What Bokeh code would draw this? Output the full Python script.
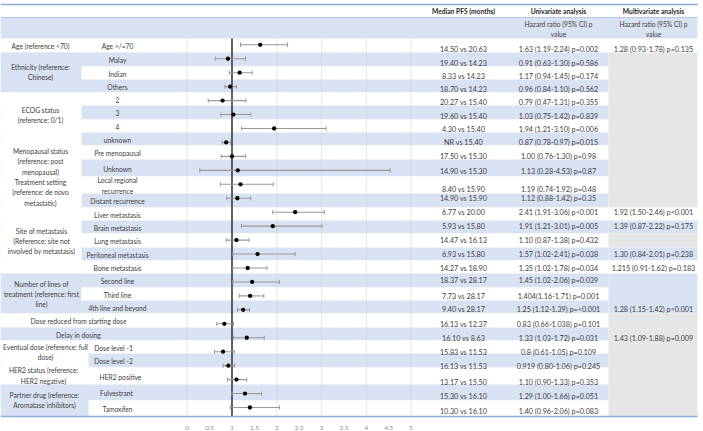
from bokeh.plotting import figure
from bokeh.models import Range1d, ColumnDataSource
from bokeh.embed import file_html
from bokeh.resources import INLINE
from bokeh.core.properties import value

# ---------------- data ----------------
GROUP_LABELS = [
    "Age (reference <70)",
    "Ethnicity (reference:\nChinese)",
    "ECOG status\n(reference: 0/1)",
    "Menopausal status\n(reference: post\nmenopausal)",
    "Treatment setting\n(reference: de novo\nmetastatic)",
    "Site of metastasis\n(Reference: site not\ninvolved by metastasis)",
    "Number of lines of\ntreatment (reference: first\nline)",
    "Dose reduced from starting dose",
    "Delay in dosing",
    "Eventual dose (reference: full\ndose)",
    "HER2 status (reference:\nHER2 negative)",
    "Partner drug (reference:\nAromatase inhibitors)",
]
GROUP_SIZES = [1, 3, 4, 2, 2, 5, 3, 1, 1, 2, 1, 2]
SUB_LABELS = ["Age >/=70", "Malay", "Indian", "Others", "2", "3", "4", "unknown",
              "Pre menopausal", "Unknown", "Local regional\nrecurrence", "Distant recurrence",
              "Liver metastasis", "Brain metastasis", "Lung metastasis", "Peritoneal metastasis",
              "Bone metastasis", "Second line", "Third line", "4th line and beyond", "", "",
              "Dose level -1", "Dose level -2", "HER2 positive", "Fulvestrant", "Tamoxifen"]
HR = [1.63, 0.91, 1.17, 0.96, 0.79, 1.03, 1.94, 0.87, 1.00, 1.13, 1.19, 1.12, 2.41, 1.91,
      1.10, 1.57, 1.35, 1.45, 1.404, 1.25, 0.83, 1.33, 0.8, 0.919, 1.10, 1.29, 1.40]
CI_LO = [1.19, 0.63, 0.94, 0.84, 0.47, 0.75, 1.21, 0.78, 0.76, 0.28, 0.74, 0.88, 1.91, 1.21,
         0.87, 1.02, 1.02, 1.02, 1.16, 1.12, 0.66, 1.03, 0.61, 0.80, 0.90, 1.00, 0.96]
CI_HI = [2.24, 1.30, 1.45, 1.10, 1.31, 1.42, 3.10, 0.97, 1.30, 4.53, 1.92, 1.42, 3.06, 3.01,
         1.38, 2.41, 1.78, 2.06, 1.71, 1.39, 1.038, 1.72, 1.05, 1.06, 1.33, 1.66, 2.06]
PFS = ["14.50 vs 20.63", "19.40 vs 14.23", "8.33 vs 14.23", "18.70 vs 14.23", "20.27 vs 15.40",
       "19.60 vs 15.40", "4.30 vs 15.40", "NR vs 15.40", "17.50 vs 15.30", "14.90 vs 15.30",
       "8.40 vs 15.90", "14.90 vs 15.90", "6.77 vs 20.00", "5.93 vs 15.80", "14.47 vs 16.13",
       "6.93 vs 15.80", "14.27 vs 18.90", "18.37 vs 28.17", "7.73 vs 28.17", "9.40 vs 28.17",
       "16.13 vs 12.37", "16.10 vs 8.63", "15.83 vs 11.53", "16.13 vs 11.53", "13.17 vs 15.50",
       "15.30 vs 16.10", "10.30 vs 16.10"]
UNI = ["1.63 (1.19-2.24) p=0.002", "0.91 (0.63-1.30) p=0.586", "1.17 (0.94-1.45) p=0.174",
       "0.96 (0.84-1.10) p=0.562", "0.79 (0.47-1.31) p=0.355", "1.03 (0.75-1.42) p=0.839",
       "1.94 (1.21-3.10) p=0.006", "0.87 (0.78-0.97) p=0.015", "1.00 (0.76-1.30) p=0.98",
       "1.13 (0.28-4.53) p=0.87", "1.19 (0.74-1.92) p=0.48", "1.12 (0.88-1.42) p=0.35",
       "2.41 (1.91-3.06) p<0.001", "1.91 (1.21-3.01) p=0.005", "1.10 (0.87-1.38) p=0.432",
       "1.57 (1.02-2.41) p=0.038", "1.35 (1.02-1.78) p=0.034", "1.45 (1.02-2.06) p=0.039",
       "1.404(1.16-1.71) p=0.001", "1.25 (1.12-1.39) p=<0.001", "0.83 (0.66-1.038) p=0.101",
       "1.33 (1.03-1.72) p=0.031", "0.8 (0.61-1.05) p=0.109", "0.919 (0.80-1.06) p=0.245",
       "1.10 (0.90-1.33) p=0.353", "1.29 (1.00-1.66) p=0.051", "1.40 (0.96-2.06) p=0.083"]
MULTI = ["1.28 (0.93-1.78) p=0.135", "", "", "", "", "", "", "", "", "", "", "",
         "1.92 (1.50-2.46) p<0.001", "1.39 (0.87-2.22) p=0.175", "",
         "1.30 (0.84-2.01) p=0.238", "1.215 (0.91-1.62) p=0.183", "", "",
         "1.28 (1.15-1.42) p<0.001", "", "1.43 (1.09-1.88) p=0.009", "", "", "", "", ""]
TICKS = [0, 0.5, 1, 1.5, 2, 2.5, 3, 3.5, 4, 4.5, 5]
TICK_LABELS = ["0", "0.5", "1", "1.5", "2", "2.5", "3", "3.5", "4", "4.5", "5"]
GRID_TICKS = [0, 2, 3, 4, 5]
HEADERS = ["Median PFS (months)", "Univariate analysis", "Multivariate analysis"]
SUBHEADER = "Hazard ratio (95% CI) p\nvalue"

# ---------------- layout (styles / positions) ----------------
W, H = 703, 431
X1 = 697                 # right edge of the table
ROW_H = [14, 14, 13, 13, 13, 14, 13, 13, 14, 17, 17, 14, 13, 13, 14, 13, 13, 14, 13, 13,
         14, 13, 13, 14, 17, 16, 16]
TABLE_TOP = 38
FOREST_Y0, FOREST_STEP = 44.3, 13.95
HR0_X, HR_UNIT = 186.7, 44.8
RT_DY = [5, 4.5, 3.5, 3, 1.5, 1.5, 0.5, 0, 0, 1.5, 5.5, 0, 0, 0, 0, 0, 0, -1, 0.5, 0,
         1, 0.5, 1, 1, 2.5, 2.5, 4]
GROUP_SPLIT = [81] * 9 + [88] * 3
GROUP_X = [40, 40, 40, 40, 40, 41, 41, 78, 78, 45, 43, 44]
GROUP_DY = [0, -1, -4.5, 0, 0, 0, 0, 0, 0, -2.5, -1, -1]
SUB_X = [117] * 22 + [113, 113] + [120, 116, 117]
PFS_X, UNI_X, MV_X = 463, 558, 653
MV_LEFT = 608
MV_SPANS = [(0, 0, "w"), (1, 11, "g"), (12, 12, "w"), (13, 13, "b"), (14, 14, "g"),
            (15, 15, "b"), (16, 16, "w"), (17, 19, "b"), (20, 26, "g")]

BLUE = "#d9e2f3"
GRAY = "#e7e6e6"
WHITE = "#ffffff"
LINE_BLUE = "#8eaadb"
TXT = "#404040"
FONT = value("Lato")
FS_NUM = value("7.2px")
FS_LAB = value("6.7px")
CMAP = {"w": WHITE, "b": BLUE, "g": GRAY}

# row boundaries of the table
tops, bots = [], []
y = TABLE_TOP
for h in ROW_H:
    tops.append(y)
    y += h
    bots.append(y)
row_col = [WHITE if i % 2 == 0 else BLUE for i in range(len(ROW_H))]
n = len(HR)
forest_ref_y = [FOREST_Y0 + FOREST_STEP * i for i in range(n)]

p = figure(width=W, height=H, x_range=Range1d(0, W), y_range=Range1d(H, 0),
           output_backend="svg", toolbar_location=None, min_border=0,
           x_axis_type=None, y_axis_type=None, outline_line_color=None,
           background_fill_color="white", border_fill_color="white")
p.xgrid.visible = False
p.ygrid.visible = False
p.extra_x_ranges = {"hr": Range1d((0 - HR0_X) / HR_UNIT, (W - HR0_X) / HR_UNIT)}
p.extra_y_ranges = {"forest": Range1d((H - FOREST_Y0) / FOREST_STEP,
                                      (0 - FOREST_Y0) / FOREST_STEP)}

# row bands
p.quad(left=[0] * n, right=[MV_LEFT] * n, top=tops, bottom=bots,
       fill_color=row_col, line_color=None)

# group cells (first column)
g_left, g_right, g_top, g_bot, g_col, g_x, g_y = [], [], [], [], [], [], []
r = 0
for gi, size in enumerate(GROUP_SIZES):
    g_left.append(0)
    g_right.append(GROUP_SPLIT[gi])
    g_top.append(tops[r])
    g_bot.append(bots[r + size - 1])
    g_col.append(row_col[r])
    g_x.append(GROUP_X[gi])
    g_y.append((tops[r] + bots[r + size - 1]) / 2 + 0.5 + GROUP_DY[gi])
    r += size
p.quad(left=g_left, right=g_right, top=g_top, bottom=g_bot, fill_color=g_col, line_color=None)

# multivariate cells
p.quad(left=[MV_LEFT] * len(MV_SPANS), right=[X1] * len(MV_SPANS),
       top=[tops[a] for a, b, c in MV_SPANS], bottom=[bots[b] for a, b, c in MV_SPANS],
       fill_color=[CMAP[c] for a, b, c in MV_SPANS], line_color=None)

# header band
p.quad(left=[0], right=[X1], top=[17], bottom=[TABLE_TOP], fill_color=BLUE, line_color=None)
p.segment(x0=[0], x1=[X1], y0=[17], y1=[17], line_color="#b4c7e7", line_width=1)

# gridlines & reference line
p.segment(x0=GRID_TICKS, x1=GRID_TICKS, y0=[TABLE_TOP] * len(GRID_TICKS),
          y1=[bots[-1]] * len(GRID_TICKS), x_range_name="hr",
          line_color="#d0d0d0", line_width=1, line_dash="1 1")
p.segment(x0=[1], x1=[1], y0=[TABLE_TOP], y1=[bots[-1]], x_range_name="hr",
          line_color="#3a3a3a", line_width=1.6)

# forest
src = ColumnDataSource(dict(i=list(range(n)), hr=HR, lo=CI_LO, hi=CI_HI,
                            c0=[i - 0.15 for i in range(n)], c1=[i + 0.15 for i in range(n)]))
p.segment(x0="lo", x1="hi", y0="i", y1="i", source=src, x_range_name="hr",
          y_range_name="forest", line_color="#999999", line_width=1.1)
p.segment(x0="lo", x1="lo", y0="c0", y1="c1", source=src, x_range_name="hr",
          y_range_name="forest", line_color="#999999", line_width=1)
p.segment(x0="hi", x1="hi", y0="c0", y1="c1", source=src, x_range_name="hr",
          y_range_name="forest", line_color="#999999", line_width=1)
p.scatter(x="hr", y="i", source=src, x_range_name="hr", y_range_name="forest",
          size=4.3, fill_color="black", line_color=None)

# texts
def txt(xs, ys, texts, size, **kw):
    opts = dict(text_align="center", text_baseline="middle", text_font=FONT,
                text_font_size=size, text_color=TXT, text_line_height=1.27)
    opts.update(kw)
    p.text(x=xs, y=ys, text=texts, **opts)

txt(g_x, g_y, GROUP_LABELS, FS_LAB)
sub_idx = [i for i in range(n) if SUB_LABELS[i]]
txt([SUB_X[i] for i in sub_idx], [(tops[i] + bots[i]) / 2 + 0.5 for i in sub_idx],
    [SUB_LABELS[i] for i in sub_idx], FS_LAB)
rt_y = [forest_ref_y[i] + RT_DY[i] for i in range(n)]
txt([PFS_X] * n, rt_y, PFS, FS_NUM)
txt([UNI_X] * n, rt_y, UNI, FS_NUM)
mv_idx = [i for i in range(n) if MULTI[i]]
txt([MV_X] * len(mv_idx), [rt_y[i] for i in mv_idx], [MULTI[i] for i in mv_idx], FS_NUM)

txt([PFS_X, UNI_X, MV_X], [10.5] * 3, HEADERS, value("6.7px"),
    text_font_style="bold", text_color="#262626")
txt([UNI_X, MV_X], [28.5] * 2, [SUBHEADER] * 2, FS_LAB)

# tick labels along the forest scale
p.text(x=TICKS, y=[427] * len(TICKS), text=TICK_LABELS, x_range_name="hr",
       text_align="center", text_baseline="middle", text_font=FONT,
       text_font_size=value("6.3px"), text_color="#8c8c8c")

# top / bottom rules
p.segment(x0=[0, 0], x1=[X1, X1], y0=[4, bots[-1]], y1=[4, bots[-1]],
          line_color=LINE_BLUE, line_width=1.5)

open("out.html", "w").write(file_html(p, INLINE))
